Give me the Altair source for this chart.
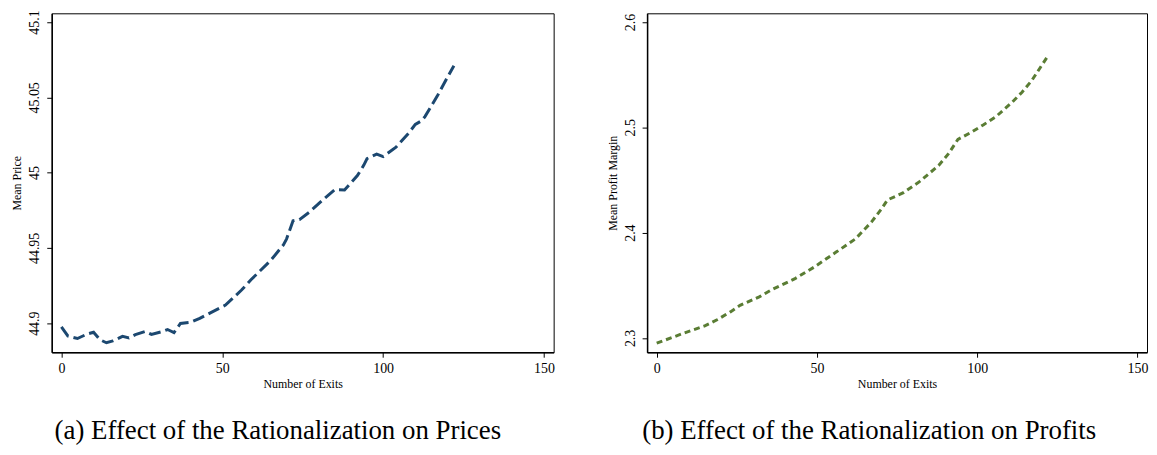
import altair as alt
import pandas as pd

# ---- data ----
price_x = [0, 2, 5, 8, 10, 12, 14, 16, 19, 21, 23, 26, 28, 31, 33, 35, 37, 40, 43, 46,
           51, 56, 59, 65, 69, 70, 72, 74, 77, 82, 85, 88, 92, 94, 95, 98, 100, 104,
           108, 110, 112, 113, 117, 120, 122]
price_y = [44.8975, 44.8915, 44.8898, 44.8928, 44.8940, 44.8890, 44.8870, 44.8882,
           44.8912, 44.8902, 44.8924, 44.8945, 44.8925, 44.8942, 44.8958, 44.8938,
           44.8998, 44.9005, 44.9032, 44.9065, 44.9120, 44.9220, 44.9290, 44.9415,
           44.9520, 44.9560, 44.9680, 44.9688, 44.9736, 44.9833, 44.9887, 44.9885,
           44.9980, 45.0050, 45.0093, 45.0123, 45.0106, 45.0169, 45.0264, 45.0320,
           45.0345, 45.0372, 45.0515, 45.0634, 45.0710]

margin_x = [0, 8, 15, 19, 23, 26, 32, 36, 43, 49, 56, 62, 67, 70, 72, 77, 82, 88, 91,
            94, 98, 102, 106, 111, 114, 117, 120, 122]
margin_y = [2.2950, 2.3040, 2.3115, 2.3175, 2.3247, 2.3309, 2.3390, 2.3460, 2.3560,
            2.3670, 2.3815, 2.3940, 2.4100, 2.4220, 2.4310, 2.4380, 2.4484, 2.4638,
            2.4747, 2.4886, 2.4950, 2.5025, 2.5105, 2.5241, 2.5334, 2.5443, 2.5582,
            2.5674]

x_ticks = [0, 50, 100, 150]
price_ticks = [44.9, 44.95, 45.0, 45.05, 45.1]
margin_ticks = [2.3, 2.4, 2.5, 2.6]

x_title = "Number of Exits"
price_title = "Mean Price"
margin_title = "Mean Profit Margin"
caption_a = "(a) Effect of the Rationalization on Prices"
caption_b = "(b) Effect of the Rationalization on Profits"

SERIF = "Liberation Serif"


def panel(xs, ys, color, dash, ytitle, ydomain, yticks, yfmt, caption, dx, width):
    df = pd.DataFrame({"x": xs, "y": ys})
    return (
        alt.Chart(df)
        .mark_line(color=color, strokeWidth=3, strokeDash=dash, strokeCap="butt")
        .encode(
            x=alt.X(
                "x:Q",
                scale=alt.Scale(domain=[-3, 153], nice=False, zero=False),
                axis=alt.Axis(values=x_ticks, title=x_title, format="d",
                              labelPadding=4.5, titlePadding=3),
            ),
            y=alt.Y(
                "y:Q",
                scale=alt.Scale(domain=ydomain, nice=False, zero=False),
                axis=alt.Axis(values=yticks, title=ytitle, format=yfmt,
                              labelAngle=270, labelAlign="center",
                              labelBaseline="bottom", labelPadding=5,
                              titlePadding=4),
            ),
        )
        .properties(
            width=width,
            height=341,
            title=alt.TitleParams(caption, orient="bottom", anchor="middle",
                                  dx=dx, offset=29, font=SERIF, fontSize=27,
                                  fontWeight="normal", color="black"),
        )
    )


left = panel(price_x, price_y, "#1c4870", [12, 5], price_title,
             [44.8807, 45.1058], price_ticks, ".4~r", caption_a, -25, 505)
right = panel(margin_x, margin_y, "#5a7d34", [6, 4], margin_title,
              [2.2864, 2.6083], margin_ticks, ".1f", caption_b, -28, 503)

chart = (
    alt.hconcat(left, right, spacing=50)
    .properties(padding={"left": 2, "top": 0, "right": 0, "bottom": 0})
    .configure_view(stroke="black", strokeWidth=1)
    .configure_axis(
        grid=False,
        domainColor="black",
        domainWidth=1.5,
        tickColor="black",
        tickSize=5,
        labelFont=SERIF,
        labelFontSize=14,
        labelColor="black",
        titleFont=SERIF,
        titleFontSize=12,
        titleFontWeight="normal",
        titleColor="black",
    )
)

chart.save("out.html", embed_options={"renderer": "svg", "actions": False})
